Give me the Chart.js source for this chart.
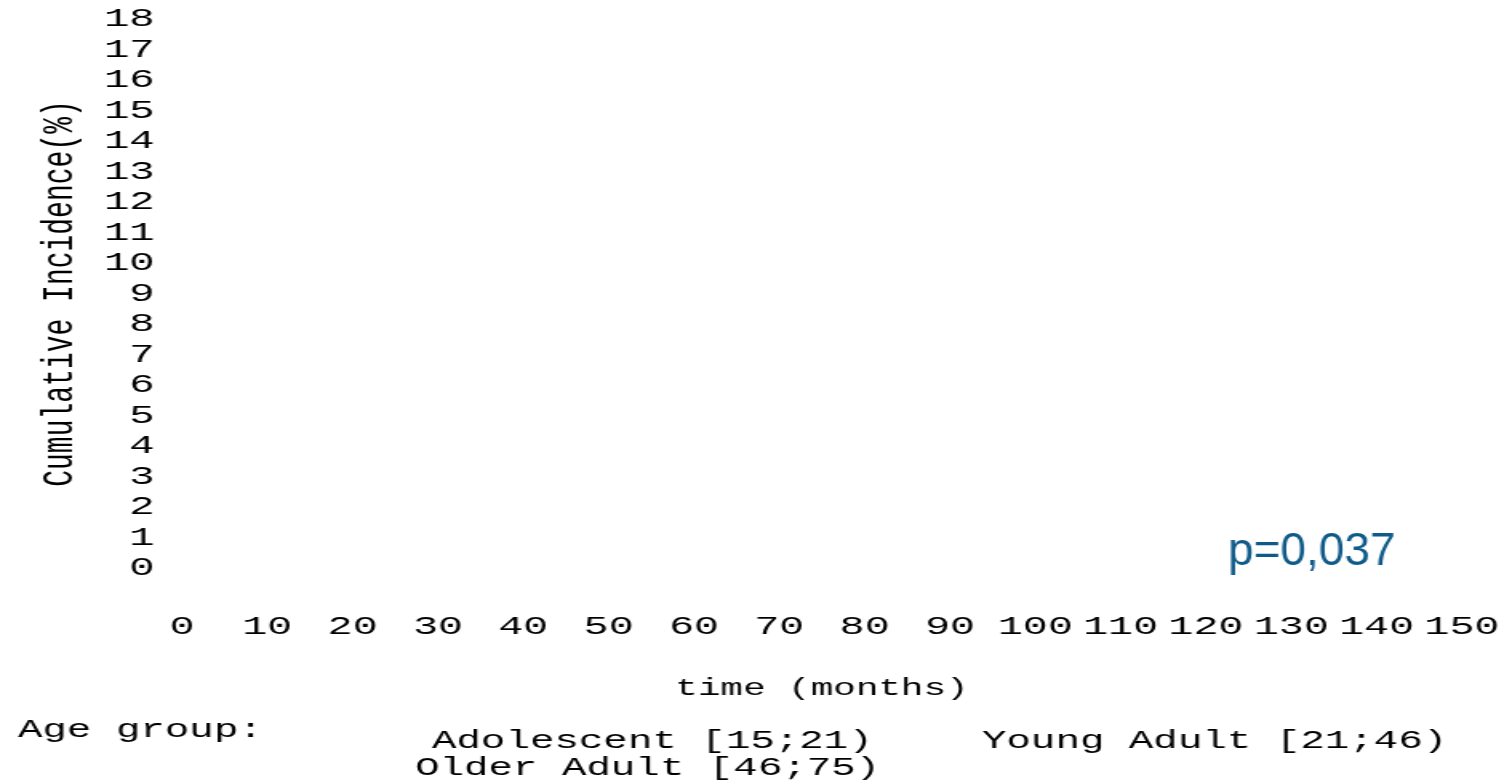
<!DOCTYPE html>
<html>
<head>
<meta charset="utf-8">
<script src="https://cdn.jsdelivr.net/npm/chart.js@4.4.1/dist/chart.umd.min.js"></script>
<style>
  html, body { margin: 0; padding: 0; background: #ffffff; overflow: hidden; }
  /* the mono lettering of this plot is wide: the canvas is drawn narrow and stretched sideways */
  #stage { width: 943px; height: 781px; transform: scaleX(1.6); transform-origin: 0 0; }
  canvas { display: block; }
</style>
</head>
<body>
<div id="stage"><canvas id="chart" width="943" height="781"></canvas></div>
<script>
// Age groups and their cumulative incidence curves (no events plotted)
const groupLabels = ['Adolescent [15;21)', 'Young Adult [21;46)', 'Older Adult [46;75)'];
const adolescentCurve = [];
const youngAdultCurve = [];
const olderAdultCurve = [];

// Axis ticks
const timeTicks = [0, 10, 20, 30, 40, 50, 60, 70, 80, 90, 100, 110, 120, 130, 140, 150];
const incidenceTicks = [0, 1, 2, 3, 4, 5, 6, 7, 8, 9, 10, 11, 12, 13, 14, 15, 16, 17, 18];

const legendTitle = 'Age group:';
const pValueText = 'p=0,037';

const STRETCH = 1.6;
const MONO = '"Liberation Mono", "Courier New", monospace';

// keep the plot frame fixed: no extra room reserved for overhanging tick labels
function clearOverhang(s) {
  s.paddingLeft = 0;
  s.paddingRight = 0;
  s.paddingTop = 0;
  s.paddingBottom = 0;
}

// Legend rows laid out under the axis title, plus the test result in the plot corner
const annotations = {
  id: 'annotations',
  afterDraw(chart) {
    const ctx = chart.ctx;
    ctx.save();
    ctx.fillStyle = '#000000';
    ctx.textBaseline = 'alphabetic';
    ctx.textAlign = 'left';
    ctx.font = '25.5px ' + MONO;
    ctx.fillText(legendTitle, 11.25, 737);
    const labels = chart.data.datasets.map(d => d.label);
    const spots = [[270, 748], [613.75, 748], [259.4, 775]];
    labels.forEach((t, i) => ctx.fillText(t, spots[i][0], spots[i][1]));
    ctx.restore();

    // p-value in an ordinary (unstretched) sans face
    ctx.save();
    ctx.scale(1 / STRETCH, 1);
    ctx.font = '46px "Liberation Sans", Arial, sans-serif';
    ctx.fillStyle = '#0f5a89';
    ctx.textBaseline = 'alphabetic';
    ctx.textAlign = 'left';
    ctx.fillText(pValueText, 1228, 565);
    ctx.restore();
  }
};

new Chart(document.getElementById('chart'), {
  type: 'line',
  data: {
    datasets: [
      { label: groupLabels[0], data: adolescentCurve, borderColor: '#000000', pointRadius: 0, stepped: true },
      { label: groupLabels[1], data: youngAdultCurve, borderColor: '#000000', pointRadius: 0, stepped: true },
      { label: groupLabels[2], data: olderAdultCurve, borderColor: '#000000', pointRadius: 0, stepped: true }
    ]
  },
  options: {
    responsive: false,
    animation: false,
    events: [],
    layout: { autoPadding: false, padding: { left: 0, right: 29.25, top: 19, bottom: 0 } },
    plugins: { legend: { display: false }, tooltip: { enabled: false } },
    scales: {
      x: {
        type: 'linear',
        min: 0,
        max: 150,
        afterBuildTicks: s => { s.ticks = timeTicks.map(v => ({ value: v })); },
        afterFit: s => { s.height = 213; clearOverhang(s); },
        grid: { display: false, drawTicks: false },
        border: { display: false },
        ticks: {
          autoSkip: false,
          maxRotation: 0,
          padding: 43.5,
          color: '#000000',
          font: { family: MONO, size: 26 }
        },
        title: {
          display: true,
          text: 'time (months)',
          color: '#000000',
          font: { family: MONO, size: 23.5 },
          padding: { top: 0, bottom: 78 }
        }
      },
      y: {
        type: 'linear',
        min: 0,
        max: 18,
        afterBuildTicks: s => { s.ticks = incidenceTicks.map(v => ({ value: v })); },
        afterFit: s => { s.width = 113.75; clearOverhang(s); },
        grid: { display: false, drawTicks: false },
        border: { display: false },
        ticks: {
          autoSkip: false,
          padding: 17,
          color: '#000000',
          font: { family: MONO, size: 26.5 }
        },
        title: {
          display: true,
          text: 'Cumulative Incidence(%)',
          color: '#000000',
          font: { family: MONO, size: 28 },
          padding: { top: 20.5, bottom: 0 }
        }
      }
    }
  },
  plugins: [annotations]
});
</script>
</body>
</html>
